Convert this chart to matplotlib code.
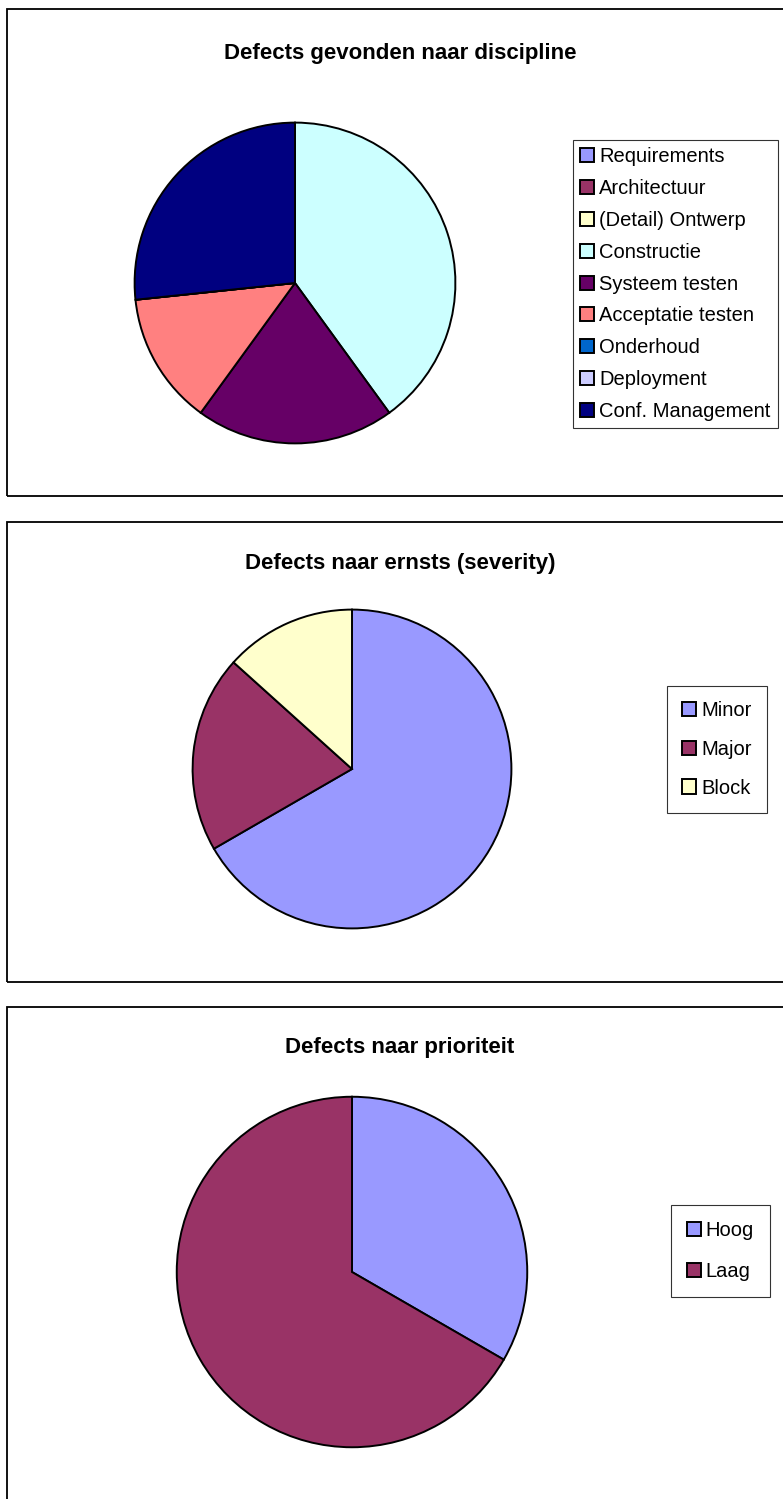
"""Defect overview: three pie charts (discipline, severity, priority) stacked in framed panels."""

import matplotlib

matplotlib.use("Agg")
import matplotlib.pyplot as plt  # noqa: E402
from matplotlib.patches import Patch, Rectangle  # noqa: E402

plt.rcParams["font.family"] = ["Liberation Sans", "DejaVu Sans"]

W, H = 783, 1499  # canvas in pixels (dpi 100)

# --- data -------------------------------------------------------------------
discipline_labels = [
    "Requirements", "Architectuur", "(Detail) Ontwerp", "Constructie",
    "Systeem testen", "Acceptatie testen", "Onderhoud", "Deployment",
    "Conf. Management",
]
discipline_counts = [0, 0, 0, 6, 3, 2, 0, 0, 4]
discipline_colors = [
    "#9999FF", "#993366", "#FFFFCC", "#CCFFFF", "#660066",
    "#FF8080", "#0066CC", "#CCCCFF", "#000080",
]

severity_labels = ["Minor", "Major", "Block"]
severity_counts = [10, 3, 2]
severity_colors = ["#9999FF", "#993366", "#FFFFCC"]

priority_labels = ["Hoog", "Laag"]
priority_counts = [5, 10]
priority_colors = ["#9999FF", "#993366"]

# panel layout in pixels: frame (top, bottom), pie centre/radius, legend box, title y
panels = [
    dict(title="Defects gevonden naar discipline", frame=(9, 496), title_y=54,
         centre=(295, 283), radius=162, legend_xy=(573, 140),
         spacing=0.64, pad=0.35,
         labels=discipline_labels, counts=discipline_counts, colors=discipline_colors),
    dict(title="Defects naar ernsts (severity)", frame=(522, 982), title_y=563,
         centre=(352, 769), radius=161, legend_xy=(667, 686),
         spacing=0.98, pad=0.75,
         labels=severity_labels, counts=severity_counts, colors=severity_colors),
    dict(title="Defects naar prioriteit", frame=(1007, 1520), title_y=1048,
         centre=(352, 1272), radius=177, legend_xy=(671, 1205),
         spacing=1.12, pad=0.78,
         labels=priority_labels, counts=priority_counts, colors=priority_colors),
]


def fx(px):
    return px / W


def fy(py):
    return 1 - py / H


fig = plt.figure(figsize=(W / 100, H / 100), dpi=100)
fig.patch.set_facecolor("white")

for p in panels:
    top, bottom = p["frame"]
    fig.patches.append(Rectangle(
        (fx(7), fy(bottom)), fx(W + 20), (bottom - top) / H,
        transform=fig.transFigure, facecolor="none", edgecolor="black",
        lw=1.3, zorder=0,
    ))
    fig.text(fx(400), fy(p["title_y"]), p["title"], ha="center", va="center",
             fontsize=16, fontweight="bold")

    cx, cy = p["centre"]
    r = p["radius"]
    ax = fig.add_axes([fx(cx - r), fy(cy + r), 2 * r / W, 2 * r / H])
    ax.pie(p["counts"], colors=p["colors"], startangle=90, counterclock=False,
           radius=1.0, wedgeprops=dict(edgecolor="black", linewidth=1.4))
    ax.set_xlim(-1.01, 1.01)
    ax.set_ylim(-1.01, 1.01)
    ax.set_aspect("equal")
    ax.axis("off")

    handles = [Patch(facecolor=c, edgecolor="black", lw=1.4) for c in p["colors"]]
    lx, ly = p["legend_xy"]
    leg = fig.legend(
        handles, p["labels"], loc="upper left",
        bbox_to_anchor=(fx(lx), fy(ly)), bbox_transform=fig.transFigure,
        fontsize=14.5, frameon=True, fancybox=False, shadow=False,
        handlelength=0.7, handleheight=0.7, handletextpad=0.25,
        labelspacing=p["spacing"], borderpad=p["pad"], borderaxespad=0,
    )
    leg.get_frame().set_edgecolor("black")
    leg.get_frame().set_linewidth(0.8)

fig.savefig("out.png", dpi=100)
